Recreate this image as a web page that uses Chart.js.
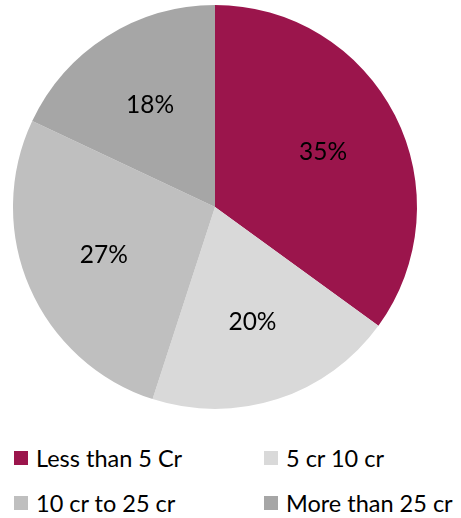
<!DOCTYPE html>
<html>
<head>
<meta charset="utf-8">
<script src="https://cdn.jsdelivr.net/npm/chart.js@4/dist/chart.umd.min.js"></script>
<style>
  html, body { margin: 0; padding: 0; background: #fff; }
  #wrap { position: relative; width: 461px; height: 518px; font-family: Lato, "Open Sans", sans-serif; }
  #box { position: absolute; left: 0; top: 0; width: 461px; height: 414px; }
  .leg { position: absolute; display: flex; align-items: center; font-size: 23.5px; color: #000; white-space: nowrap; }
  .leg i { display: inline-block; width: 14px; height: 14px; margin-right: 8px; }
</style>
</head>
<body>
<div id="wrap">
  <div id="box"><canvas id="c"></canvas></div>
  <div id="legend"></div>
</div>
<script>
const categories = ["Less than 5 Cr", "5 cr 10 cr", "10 cr to 25 cr", "More than 25 cr"];
const shares = [35, 20, 27, 18];
const sliceColors = ["#9B154C", "#D9D9D9", "#BFBFBF", "#A6A6A6"];

// percentage labels inside each slice
const sliceLabels = {
  id: "sliceLabels",
  afterDatasetsDraw(chart) {
    const ctx = chart.ctx;
    const meta = chart.getDatasetMeta(0);
    ctx.save();
    ctx.font = "24.5px Lato, 'Open Sans', sans-serif";
    ctx.fillStyle = "#000";
    ctx.textAlign = "center";
    ctx.textBaseline = "middle";
    meta.data.forEach((arc, i) => {
      const mid = (arc.startAngle + arc.endAngle) / 2;
      const r = arc.outerRadius * 0.6;
      ctx.fillText(shares[i] + "%", arc.x + Math.cos(mid) * r, arc.y + Math.sin(mid) * r);
    });
    ctx.restore();
  }
};

new Chart(document.getElementById("c"), {
  type: "pie",
  data: {
    labels: categories,
    datasets: [{ data: shares, backgroundColor: sliceColors, borderWidth: 0 }]
  },
  options: {
    responsive: true,
    maintainAspectRatio: false,
    animation: false,
    layout: { padding: { top: 5, bottom: 5, left: 0, right: 31 } },
    plugins: { legend: { display: false }, tooltip: { enabled: false } }
  },
  plugins: [sliceLabels]
});

// two-column legend below the pie
const legendPos = [[14, 444], [264, 444], [14, 489], [264, 489]];
const legend = document.getElementById("legend");
categories.forEach((name, i) => {
  const d = document.createElement("div");
  d.className = "leg";
  d.style.left = legendPos[i][0] + "px";
  d.style.top = legendPos[i][1] + "px";
  d.innerHTML = '<i style="background:' + sliceColors[i] + '"></i><span></span>';
  d.querySelector("span").textContent = name;
  legend.appendChild(d);
});
</script>
</body>
</html>
